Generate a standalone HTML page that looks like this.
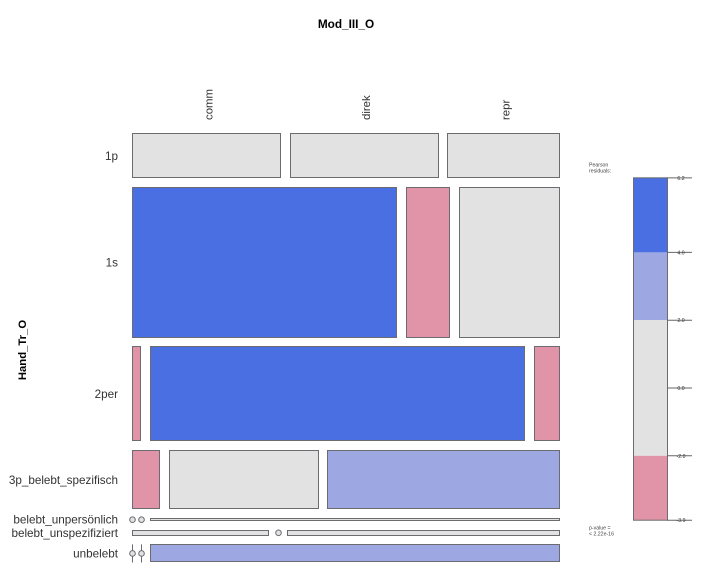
<!DOCTYPE html>
<html>
<head>
<meta charset="utf-8">
<title>Mod_III_O mosaic plot</title>
<style>
html,body{margin:0;padding:0;background:#fff;width:706px;height:584px;overflow:hidden}
svg{display:block}
text{font-family:"Liberation Sans",Arial,sans-serif;fill:#333}
</style>
</head>
<body>
<svg id="chart" xmlns="http://www.w3.org/2000/svg" width="706" height="584" viewBox="0 0 706 584">
<rect x="0" y="0" width="706" height="584" fill="#fff"/>
<text x="346" y="28" text-anchor="middle" font-size="11.8" font-weight="bold" style="fill:#000">Mod_III_O</text>
<text transform="translate(26,350) rotate(-90)" text-anchor="middle" font-size="11.3" font-weight="bold" style="fill:#000">Hand_Tr_O</text>
<text x="589" y="166.5" font-size="5.2" style="fill:#444">Pearson</text>
<text x="589" y="172.5" font-size="5.2" style="fill:#444">residuals:</text>
<text x="589" y="529.5" font-size="5.2" style="fill:#444">p-value =</text>
<text x="589" y="535.5" font-size="5.2" style="fill:#444">&lt; 2.22e-16</text>
</svg>
<script>
// Chart data
var rowLabels = ["1p", "1s", "2per", "3p_belebt_spezifisch", "belebt_unpersönlich", "belebt_unspezifiziert", "unbelebt"];
var colLabels = ["comm", "direk", "repr"];
var counts = [
  [33, 33, 25],
  [194, 32, 74],
  [4, 174, 12],
  [8, 43, 67],
  [0, 0, 6],
  [4, 0, 8],
  [0, 0, 36]
];
var residuals = [
  [0.2, 0.3, -0.6],
  [6.2, -3.0, -1.5],
  [-3.9, 6.0, -2.6],
  [-2.5, -1.2, 3.2],
  [-1.0, -1.0, 1.5],
  [0.5, -1.0, 0.5],
  [-1.9, -1.9, 3.5]
];
var legendBreaks = [6.2, 4, 2, -2, -3.9];
var legendTicks = ["6.2", "4.0", "2.0", "0.0", "-2.0", "-3.9"];

var svg = document.getElementById('chart');
var NS = 'http://www.w3.org/2000/svg';
var X0 = 132, X1 = 560, Y0 = 133, Y1 = 562.5, GAP_X = 9, GAP_Y = 8.6;
var STROKE = '#6b6b70';

function shade(r) {
  if (r >= 4) return '#4a6fe3';
  if (r >= 2) return '#9da8e2';
  if (r > -2) return '#e2e2e2';
  return '#e194a7';
}
function sum(a) {
  return a.reduce(function (s, v) { return s + v; }, 0);
}
var rowTotals = counts.map(sum);
var grandTotal = sum(rowTotals);
function heightScale(n) {
  return n * (Y1 - Y0 - GAP_Y * (counts.length - 1)) / grandTotal;
}
function widthScale(n, total) {
  return n * (X1 - X0 - GAP_X * (colLabels.length - 1)) / total;
}
function legendY(v) {
  return 388 - v * 33.9;
}
function px(v) {
  return Math.round(v) + 0.5;
}

// Mosaic cells
var rowY = Y0;
counts.forEach(function (row, i) {
  var h = heightScale(rowTotals[i]);
  var x = X0;
  var label = document.createElementNS(NS, 'text');
  
  
  label.setAttribute('x', 118);
  label.setAttribute('y', rowY + h / 2 + 4);
  label.setAttribute('text-anchor', 'end');
  label.setAttribute('font-size', '11.7');
  label.textContent = rowLabels[i];
  svg.appendChild(label);
  row.forEach(function (n, j) {
    var w = widthScale(n, rowTotals[i]);
    if (n === 0) {
      var stem = document.createElementNS(NS, 'line');
      
      
      stem.setAttribute('x1', px(x));
      stem.setAttribute('x2', px(x));
      stem.setAttribute('y1', rowY);
      stem.setAttribute('y2', rowY + h);
      stem.setAttribute('stroke', STROKE);
      svg.appendChild(stem);
      var dot = document.createElementNS(NS, 'circle');
      
      
      dot.setAttribute('cx', px(x));
      dot.setAttribute('cy', rowY + h / 2);
      dot.setAttribute('r', 2.8);
      dot.setAttribute('fill', '#e2e2e2');
      dot.setAttribute('stroke', STROKE);
      svg.appendChild(dot);
    } else {
      var left = Math.round(x);
      var right = Math.round(x + w - 0.7);
      var upper = Math.round(rowY);
      var lower = Math.round(rowY + h - 1.3);
      var cell = document.createElementNS(NS, 'rect');
      
      
      cell.setAttribute('x', left + 0.5);
      cell.setAttribute('y', upper + 0.5);
      cell.setAttribute('width', Math.max(1, right - left));
      cell.setAttribute('height', Math.max(1, lower - upper));
      cell.setAttribute('fill', shade(residuals[i][j]));
      cell.setAttribute('stroke', STROKE);
      svg.appendChild(cell);
    }
    x += w + GAP_X;
  });
  rowY += h + GAP_Y;
});

// Column labels, centred over the first row's cells
var cx = X0;
colLabels.forEach(function (name, j) {
  var w = widthScale(counts[0][j], rowTotals[0]);
  var t = document.createElementNS(NS, 'text');
  
  
  t.setAttribute('transform', 'translate(' + (cx + w / 2 + 6) + ',120) rotate(-90)');
  t.setAttribute('font-size', '11.4');
  t.textContent = name;
  svg.appendChild(t);
  cx += w + GAP_X;
});

// Legend colour bar
var LX = 633, LW = 34;
for (var b = 0; b < legendBreaks.length - 1; b++) {
  var bandTop = legendY(legendBreaks[b]);
  var bandBottom = legendY(legendBreaks[b + 1]);
  var band = document.createElementNS(NS, 'rect');
  
  
  band.setAttribute('x', LX);
  band.setAttribute('y', bandTop);
  band.setAttribute('width', LW);
  band.setAttribute('height', bandBottom - bandTop);
  band.setAttribute('fill', shade((legendBreaks[b] + legendBreaks[b + 1]) / 2));
  svg.appendChild(band);
}
var frame = document.createElementNS(NS, 'rect');


frame.setAttribute('x', LX + 0.5);
frame.setAttribute('y', legendY(legendBreaks[0]));
frame.setAttribute('width', LW);
frame.setAttribute('height', legendY(legendBreaks[legendBreaks.length - 1]) - legendY(legendBreaks[0]));
frame.setAttribute('fill', 'none');
frame.setAttribute('stroke', STROKE);
svg.appendChild(frame);

legendTicks.forEach(function (lab) {
  var ty = legendY(parseFloat(lab));
  var tick = document.createElementNS(NS, 'line');
  
  
  tick.setAttribute('x1', LX + LW);
  tick.setAttribute('x2', 692);
  tick.setAttribute('y1', ty);
  tick.setAttribute('y2', ty);
  tick.setAttribute('stroke', '#666');
  svg.appendChild(tick);
  var tl = document.createElementNS(NS, 'text');
  
  
  tl.setAttribute('x', 681);
  tl.setAttribute('y', ty + 2);
  tl.setAttribute('text-anchor', 'middle');
  tl.setAttribute('font-size', '5.2');
  tl.textContent = lab;
  svg.appendChild(tl);
});
</script>
</body>
</html>
